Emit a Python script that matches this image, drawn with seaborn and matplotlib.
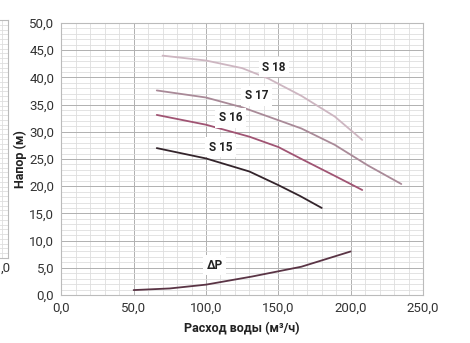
import numpy as np
import pandas as pd
import matplotlib
matplotlib.use("Agg")
import matplotlib.pyplot as plt
from matplotlib.ticker import MultipleLocator, FuncFormatter
import seaborn as sns

# Curve data (flow m3/h, head m)
s18_q = [70, 100, 125, 143, 166, 189, 208]
s18_h = [44.0, 43.1, 41.7, 39.8, 36.6, 32.8, 28.5]
s17_q = [66, 100, 125, 143, 166, 189, 212, 235]
s17_h = [37.6, 36.3, 34.5, 32.8, 30.6, 27.6, 23.8, 20.4]
s16_q = [66, 100, 130, 150, 166, 189, 208]
s16_h = [33.1, 31.3, 29.1, 27.2, 25.0, 21.9, 19.3]
s15_q = [66, 100, 130, 150, 165, 180]
s15_h = [27.0, 25.1, 22.7, 20.2, 18.2, 16.0]
dp_q = [50, 75, 100, 132, 166, 200]
dp_h = [0.9, 1.2, 1.9, 3.4, 5.2, 8.0]

series_names = ["S 18", "S 17", "S 16", "S 15", "ΔP"]
label_q = [147, 135, 117, 110, 106]
label_h = [41.9, 36.6, 32.6, 27.2, 5.5]
line_colors = ["#cdb6c1", "#a98a98", "#a05473", "#33242b", "#5a3445"]

sns.set_style("white")
plt.rcParams["font.family"] = ["Roboto", "DejaVu Sans"]

frames = []
for name, q, h in zip(series_names,
                      [s18_q, s17_q, s16_q, s15_q, dp_q],
                      [s18_h, s17_h, s16_h, s15_h, dp_h]):
    frames.append(pd.DataFrame({"q": q, "h": h, "curve": name}))
df = pd.concat(frames, ignore_index=True)

fig = plt.figure(figsize=(4.7, 3.43), dpi=100)
ax = fig.add_axes([0.1304, 0.140, 0.7696, 0.793])

grid_minor = "#dedede"
grid_major = "#b0b0b0"

sns.lineplot(data=df, x="q", y="h", hue="curve", hue_order=series_names,
             palette=dict(zip(series_names, line_colors)), sort=False,
             linewidth=1.3, legend=False, ax=ax, zorder=3)

ax.set_xlim(0, 250)
ax.set_ylim(0, 50)
ax.xaxis.set_major_locator(MultipleLocator(50))
ax.xaxis.set_minor_locator(MultipleLocator(10))
ax.yaxis.set_major_locator(MultipleLocator(5))
ax.yaxis.set_minor_locator(MultipleLocator(1))
ax.grid(which="minor", color=grid_minor, linewidth=0.6)
ax.grid(which="major", color=grid_major, linewidth=0.7)
ax.set_axisbelow(True)
fmt = FuncFormatter(lambda v, p: f"{v:.1f}".replace(".", ","))
ax.xaxis.set_major_formatter(fmt)
ax.yaxis.set_major_formatter(fmt)
ax.tick_params(axis="both", which="both", length=0, labelsize=9.5,
               colors="#333333", pad=5)
for side in ["top", "right", "left", "bottom"]:
    ax.spines[side].set_color("#bbbbbb")
    ax.spines[side].set_linewidth(0.8)

ax.set_xlabel("Расход воды (м³/ч)", fontsize=9, fontweight="bold",
              color="#222222")
ax.set_ylabel("Напор (м)", fontsize=9, fontweight="bold", color="#222222")
ax.xaxis.set_label_coords(0.5, -0.10)
ax.yaxis.set_label_coords(-0.095, 0.5)

for name, lq, lh in zip(series_names, label_q, label_h):
    ax.text(lq, lh, name, ha="center", va="center", fontsize=8.5,
            fontweight="bold", color="#222222", zorder=5,
            bbox=dict(facecolor="white", edgecolor="none", pad=2.5))

# sliver of the neighbouring chart on the left edge
side = fig.add_axes([-0.3, 85 / 343, 0.3 + 8 / 470, 238 / 343])
side.set_xlim(0, 250)
side.set_ylim(0, 50)
side.xaxis.set_minor_locator(MultipleLocator(10))
side.yaxis.set_minor_locator(MultipleLocator(1))
side.grid(which="both", color=grid_minor, linewidth=0.6)
side.tick_params(length=0, labelleft=False, labelbottom=False)
for s in side.spines.values():
    s.set_color("#bbbbbb")
    s.set_linewidth(0.8)
fig.text(0.5 / 470, 1 - 268 / 343, ",0", ha="left", va="center",
         fontsize=9.5, color="#333333")

fig.savefig("out.png", dpi=100)
